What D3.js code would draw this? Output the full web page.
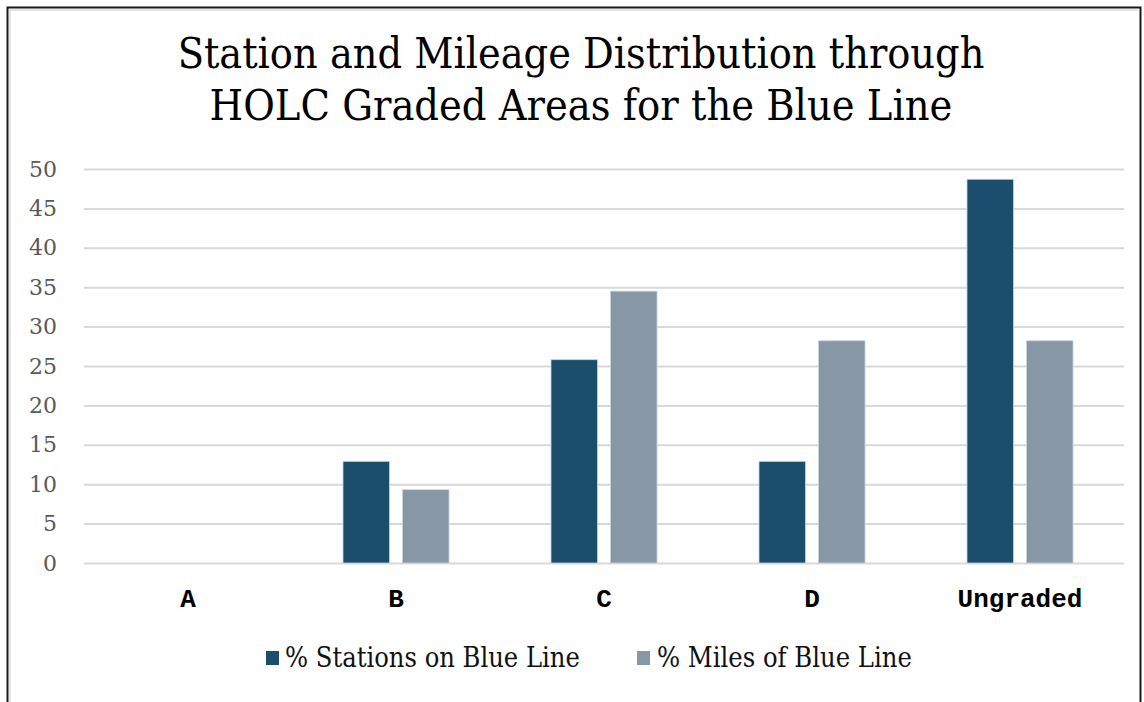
<!DOCTYPE html>
<html>
<head>
<meta charset="utf-8">
<script src="https://cdn.jsdelivr.net/npm/d3@7"></script>
<style>
  html, body { margin: 0; padding: 0; background: #fff; }
  svg { display: block; }
</style>
</head>
<body>
<svg id="chart" width="1144" height="702"></svg>
<script>
// Categories (HOLC grades) and the two series, in percent
const categories = ["A", "B", "C", "D", "Ungraded"];
const stationsPct = [0, 12.9, 25.8, 12.9, 48.7];
const milesPct = [0, 9.3, 34.5, 28.2, 28.2];
const seriesNames = ["% Stations on Blue Line", "% Miles of Blue Line"];
const yTicks = [0, 5, 10, 15, 20, 25, 30, 35, 40, 45, 50];
const titleLines = ["Station and Mileage Distribution through", "HOLC Graded Areas for the Blue Line"];

const colors = ["#1b4e6c", "#8797a6"];
const serif = "'DejaVu Serif Condensed', 'DejaVu Serif', serif";

const svg = d3.select("#chart");
const W = 1144, H = 702;
const plot = { left: 84, right: 1124, top: 169, bottom: 563 };

// Outer frame
svg.append("rect").attr("x", 0).attr("y", 0).attr("width", W).attr("height", H).attr("fill", "#fff");
svg.append("path")
  .attr("d", `M7.5,${H} V7.5 H1140.5 V${H}`)
  .attr("fill", "none").attr("stroke", "#1a1a1a").attr("stroke-width", 2);
svg.append("path")
  .attr("d", `M10,${H} V10 H1138`)
  .attr("fill", "none").attr("stroke", "#dcdcdc").attr("stroke-width", 1.5);

// Fit a text node to a target width by adjusting font size
function fitText(sel, target) {
  const node = sel.node();
  const fs = parseFloat(sel.attr("font-size"));
  const w = node.getComputedTextLength();
  if (w > 0) sel.attr("font-size", fs * target / w);
}

// Title
const titleSpecs = [
  { y: 68, width: 807 },
  { y: 120, width: 743 }
];
titleLines.forEach((t, i) => {
  const el = svg.append("text")
    .attr("x", 581).attr("y", titleSpecs[i].y)
    .attr("text-anchor", "middle")
    .attr("font-family", serif)
    .attr("font-size", 36)
    .attr("fill", "#000")
    .text(t);
  fitText(el, titleSpecs[i].width);
});

// Scales
const x0 = d3.scaleBand().domain(categories).range([plot.left, plot.right]).paddingInner(0).paddingOuter(0);
const y = d3.scaleLinear().domain([0, 50]).range([plot.bottom, plot.top]);

// Gridlines and value labels via axis
const yAxis = svg.append("g")
  .attr("transform", `translate(${plot.left},0)`)
  .call(d3.axisLeft(y).tickValues(yTicks).tickSize(-(plot.right - plot.left)).tickPadding(27));
yAxis.select(".domain").remove();
yAxis.selectAll(".tick line").attr("stroke", "#d9d9d9").attr("stroke-width", 2);
yAxis.selectAll(".tick text")
  .attr("font-family", "'DejaVu Serif', serif")
  .attr("font-size", 22)
  .attr("fill", "#595959");

// Bars: two per category, group centred in each band
const barW = 46.5, barGap = 13;
const groupW = 2 * barW + barGap;
const seriesData = [stationsPct, milesPct];

const groups = svg.append("g").selectAll("g")
  .data(categories)
  .join("g")
  .attr("transform", c => `translate(${x0(c) + (x0.bandwidth() - groupW) / 2},0)`);

groups.selectAll("rect")
  .data((c, i) => seriesData.map((s, k) => ({ k, v: s[i] })))
  .join("rect")
  .filter(d => d.v > 0)
  .attr("x", d => d.k * (barW + barGap))
  .attr("y", d => y(d.v))
  .attr("width", barW)
  .attr("height", d => y(0) - y(d.v))
  .attr("fill", d => colors[d.k])
  .attr("stroke", "#c9d3dc")
  .attr("stroke-width", 0.8);

// Category labels
const xAxis = svg.append("g")
  .attr("transform", `translate(0,${plot.bottom})`)
  .call(d3.axisBottom(x0).tickSize(0).tickPadding(26));
xAxis.select(".domain").remove();
xAxis.selectAll(".tick text")
  .attr("font-family", "'Liberation Mono', 'DejaVu Sans Mono', monospace")
  .attr("font-weight", "bold")
  .attr("font-size", 26)
  .attr("fill", "#000");

// Legend
const legendItems = [
  { sq: 266, tx: 285, w: 295 },
  { sq: 637, tx: 657, w: 255 }
];
seriesNames.forEach((name, i) => {
  const li = legendItems[i];
  svg.append("rect")
    .attr("x", li.sq).attr("y", 651)
    .attr("width", 13).attr("height", 14)
    .attr("fill", colors[i]);
  const t = svg.append("text")
    .attr("x", li.tx).attr("y", 667)
    .attr("font-family", serif)
    .attr("font-size", 22)
    .attr("fill", "#111")
    .text(name);
  fitText(t, li.w);
});
</script>
</body>
</html>
